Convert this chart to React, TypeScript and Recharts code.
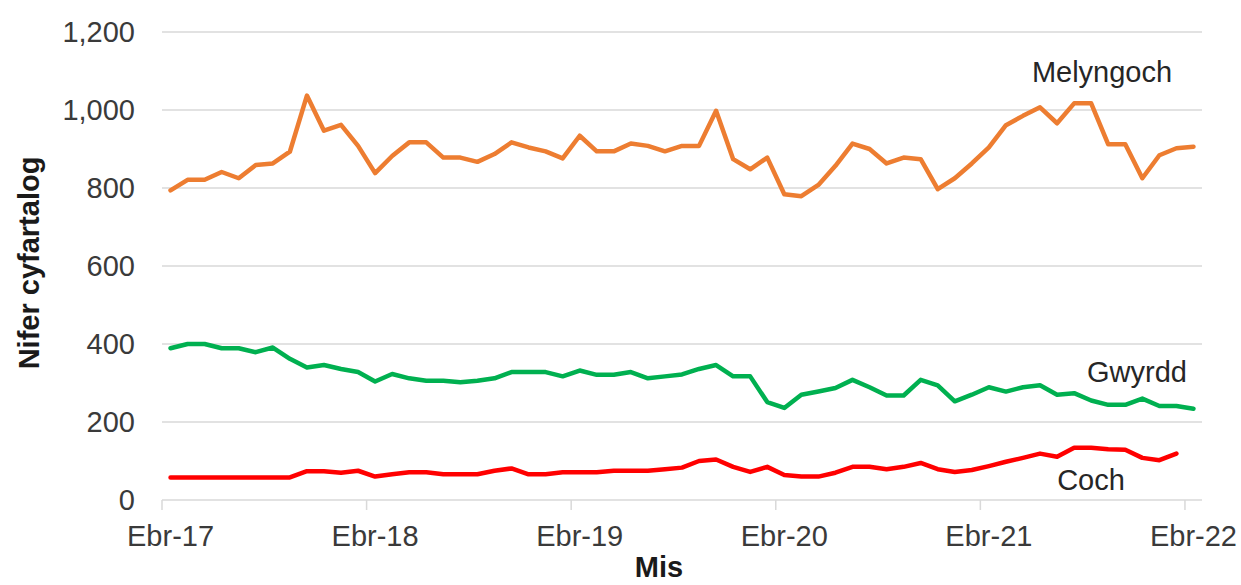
import React from 'react';
import { LineChart, Line, XAxis, YAxis, CartesianGrid } from 'recharts';

const MONTH_NAMES = ['Ion', 'Chwe', 'Maw', 'Ebr', 'Mai', 'Meh', 'Gor', 'Awst', 'Medi', 'Hyd', 'Tach', 'Rhag'];
const START_YEAR = 17;
const MONTH_COUNT = 61; // Ebr-17 .. Ebr-22

const CATEGORIES: string[] = Array.from({ length: MONTH_COUNT }, (_, i) => {
  const m = (3 + i) % 12;
  const y = START_YEAR + Math.floor((3 + i) / 12);
  return `${MONTH_NAMES[m]}-${y}`;
});

const MELYNGOCH = [
  794, 821, 821, 841, 825, 859, 863, 893, 1037, 947, 962, 908, 838, 882, 917, 917,
  878, 878, 867, 887, 917, 904, 894, 876, 934, 894, 894, 914, 908, 894, 908, 908,
  998, 874, 848, 878, 784, 779, 808, 857, 914, 900, 863, 878, 874, 797, 825, 863,
  904, 961, 985, 1007, 966, 1017, 1017, 912, 912, 825, 884, 902, 906,
];

const GWYRDD = [
  389, 400, 400, 389, 389, 379, 391, 362, 340, 346, 336, 328, 304, 323, 312, 306,
  306, 302, 306, 312, 328, 328, 328, 317, 332, 321, 321, 328, 312, 317, 322, 336,
  346, 317, 317, 251, 236, 270, 278, 287, 308, 289, 268, 268, 308, 294, 253, 270,
  289, 278, 289, 294, 270, 274, 255, 244, 244, 260, 241, 241, 234,
];

const COCH = [
  58, 58, 58, 58, 58, 58, 58, 58, 74, 74, 70, 75, 60, 66, 71, 71,
  66, 66, 66, 75, 81, 66, 66, 71, 71, 71, 75, 75, 75, 79, 83, 100,
  104, 85, 72, 85, 64, 60, 60, 70, 85, 85, 79, 85, 95, 79, 72, 77,
  87, 98, 108, 119, 111, 134, 134, 130, 129, 108, 102, 119,
];

const Y_TICKS = [0, 200, 400, 600, 800, 1000, 1200];

const SERIES_NAMES = { melyngoch: 'Melyngoch', gwyrdd: 'Gwyrdd', coch: 'Coch' };
const AXIS_TITLES = { x: 'Mis', y: 'Nifer cyfartalog' };

const DATA = CATEGORIES.map((month, i) => ({
  month,
  melyngoch: MELYNGOCH[i],
  gwyrdd: GWYRDD[i],
  coch: COCH[i],
}));

const W = 1241;
const H = 585;
const MARGIN = { top: 32, right: 39, left: 0, bottom: 0 };
const Y_AXIS_W = 162;
const X_AXIS_H = 85;
const PLOT_LEFT = MARGIN.left + Y_AXIS_W;
const PLOT_RIGHT = W - MARGIN.right;
const PLOT_BOTTOM = H - MARGIN.bottom - X_AXIS_H;
const BAND = (PLOT_RIGHT - PLOT_LEFT) / CATEGORIES.length;

const FONT = '"Liberation Sans", Arial, sans-serif';
const FS = 29;
const TEXT_COLOR = '#3a3a3a';
const GRID = '#d9d9d9';

const XTick = (props: any) => {
  const { x, y, payload } = props;
  const tx = x - BAND / 2;
  return (
    <g>
      <line x1={tx} x2={tx} y1={PLOT_BOTTOM} y2={PLOT_BOTTOM + 10} stroke={GRID} strokeWidth={1.5} />
      <text x={x} y={y} dy="0.71em" textAnchor="middle" fontFamily={FONT} fontSize={FS} fill={TEXT_COLOR}>
        {payload.value}
      </text>
    </g>
  );
};

export default function App() {
  return (
    <div style={{ position: 'absolute', left: 0, top: 0, width: W, height: H, background: '#fff' }}>
      <LineChart width={W} height={H} data={DATA} margin={MARGIN}>
        <CartesianGrid vertical={false} stroke={GRID} strokeWidth={1.5} />
        <XAxis
          dataKey="month"
          scale="band"
          interval={11}
          height={X_AXIS_H}
          axisLine={false}
          tickLine={false}
          tickSize={0}
          tickMargin={25}
          tick={<XTick />}
        />
        <YAxis
          domain={[0, 1200]}
          ticks={Y_TICKS}
          width={Y_AXIS_W}
          axisLine={false}
          tickLine={false}
          tickSize={0}
          tickMargin={27}
          tickFormatter={(v: number) => v.toLocaleString('en-US')}
          tick={{ fontFamily: FONT, fontSize: FS, fill: TEXT_COLOR }}
        />
        <Line dataKey="melyngoch" name={SERIES_NAMES.melyngoch} type="linear" stroke="#ED7D31" strokeWidth={4.5}
          strokeLinejoin="round" strokeLinecap="round" dot={false} isAnimationActive={false} />
        <Line dataKey="gwyrdd" name={SERIES_NAMES.gwyrdd} type="linear" stroke="#00B050" strokeWidth={4.5}
          strokeLinejoin="round" strokeLinecap="round" dot={false} isAnimationActive={false} />
        <Line dataKey="coch" name={SERIES_NAMES.coch} type="linear" stroke="#FF0000" strokeWidth={4.5}
          strokeLinejoin="round" strokeLinecap="round" dot={false} isAnimationActive={false} />
      </LineChart>
      <svg width={W} height={H} style={{ position: 'absolute', left: 0, top: 0, pointerEvents: 'none' }}>
        <text x={29} y={263} transform="rotate(-90 29 263)" textAnchor="middle" dominantBaseline="central"
          fontFamily={FONT} fontSize={FS} fontWeight="bold" fill="#1a1a1a">
          {AXIS_TITLES.y}
        </text>
        <text x={659} y={577} textAnchor="middle" fontFamily={FONT} fontSize={FS} fontWeight="bold" fill="#1a1a1a">
          {AXIS_TITLES.x}
        </text>
        <text x={1102} y={82} textAnchor="middle" fontFamily={FONT} fontSize={FS} fill="#262626">
          {SERIES_NAMES.melyngoch}
        </text>
        <text x={1137} y={382} textAnchor="middle" fontFamily={FONT} fontSize={FS} fill="#262626">
          {SERIES_NAMES.gwyrdd}
        </text>
        <text x={1091} y={490} textAnchor="middle" fontFamily={FONT} fontSize={FS} fill="#262626">
          {SERIES_NAMES.coch}
        </text>
      </svg>
    </div>
  );
}
